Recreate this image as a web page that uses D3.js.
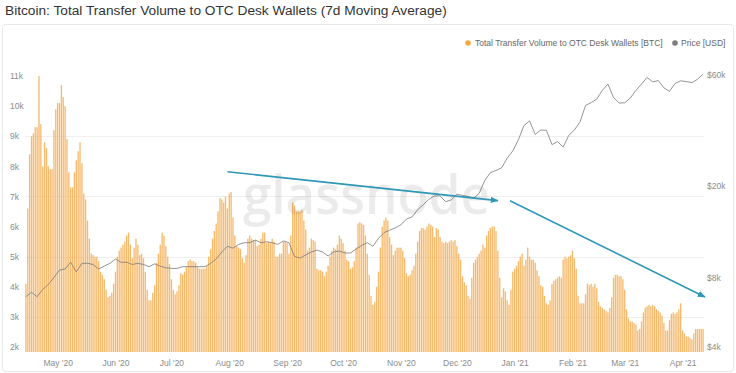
<!DOCTYPE html>
<html>
<head>
<meta charset="utf-8">
<script src="https://cdn.jsdelivr.net/npm/d3@7"></script>
<style>
body { margin: 0; background: #fff; }
svg { display: block; font-family: "Liberation Sans", Arial, sans-serif; }
.axis text { font-size: 8.5px; fill: #8c8c8c; }
.axis path { display: none; }
</style>
</head>
<body>
<svg id="chart" width="736" height="373"></svg>
<script>
// daily 7d MA transfer volume to OTC desks, thousands of BTC, from 14 Apr 2020
var volume = [
  4.1, 6.6, 8.4, 9.0, 9.1, 9.3, 9.3, 11.0, 9.4, 8.0,
  8.8, 8.6, 8.0, 7.9, 7.9, 9.2, 9.9, 10.1, 10.1, 10.7,
  10.3, 10.0, 8.9, 7.8, 7.3, 7.3, 7.8, 8.2, 8.5, 8.8,
  8.1, 7.1, 6.9, 6.2, 5.6, 5.1, 5.05, 5.0, 5.0, 4.85,
  4.5, 4.4, 4.25, 3.9, 3.65, 3.7, 3.8, 4.1, 4.5, 5.0,
  5.2, 5.3, 5.4, 5.5, 5.7, 5.8, 5.4, 4.95, 5.3, 5.6,
  5.4, 5.05, 5.1, 4.95, 4.5, 3.9, 3.55, 3.55, 3.8, 4.05,
  4.8, 5.1, 5.4, 5.8, 5.7, 5.35, 5.0, 4.75, 4.25, 3.9,
  3.75, 3.85, 4.05, 4.45, 4.4, 4.5, 4.65, 4.85, 4.9, 4.85,
  4.85, 4.8, 4.65, 4.6, 4.6, 4.6, 4.6, 4.7, 5.0, 5.25,
  5.6, 5.85, 6.1, 6.5, 6.95, 6.9, 6.8, 7.0, 6.6, 7.1,
  7.15, 6.3, 5.7, 5.35, 5.3, 5.25, 4.95, 4.8, 5.05, 5.6,
  5.7, 5.6, 5.55, 5.55, 5.35, 5.4, 5.6, 5.8, 5.8, 5.45,
  5.5, 5.45, 5.6, 5.5, 5.0, 5.0, 5.1, 5.1, 5.5, 5.5,
  5.45, 5.1, 5.7, 6.8, 6.7, 6.5, 6.5, 6.5, 6.55, 6.2,
  5.9, 5.2, 5.3, 5.6, 5.55, 5.5, 4.6, 4.55, 4.55, 4.5,
  4.35, 4.5, 4.7, 5.0, 5.2, 5.3, 5.25, 5.4, 5.7, 5.6,
  5.45, 5.2, 4.9, 4.85, 4.6, 4.65, 4.85, 5.3, 6.1, 6.15,
  6.1, 6.05, 5.7, 5.1, 4.4, 3.7, 3.4, 3.5, 4.0, 4.5,
  5.3, 6.0, 6.2, 6.3, 6.2, 5.65, 5.4, 5.05, 5.2, 5.3,
  5.3, 5.3, 5.2, 4.95, 4.45, 4.35, 4.4, 4.55, 4.7, 5.1,
  5.5, 5.85, 5.95, 5.95, 5.9, 6.0, 6.1, 6.05, 6.0, 5.65,
  5.95, 5.9, 5.65, 5.5, 5.45, 5.5, 5.45, 5.5, 5.55, 5.5,
  5.55, 5.35, 5.1, 4.9, 4.35, 4.15, 4.05, 3.7, 3.6, 4.3,
  4.8, 4.9, 5.0, 5.1, 5.2, 5.4, 5.3, 5.7, 5.85, 5.95,
  6.0, 6.0, 5.85, 5.2, 4.3, 3.65, 3.95, 3.85, 3.55, 3.4,
  3.9, 4.5, 4.6, 4.7, 4.85, 5.0, 5.1, 4.7, 4.9, 5.3,
  5.0, 4.9, 4.9, 4.8, 4.55, 4.35, 4.05, 4.0, 3.7, 3.45,
  3.4, 3.55, 4.1, 4.2, 4.25, 4.3, 4.35, 4.3, 4.9, 5.0,
  4.95, 5.0, 5.05, 5.2, 4.95, 4.6, 3.7, 3.45, 3.45, 3.45,
  3.75, 4.1, 4.05, 4.1, 4.0, 4.1, 3.95, 3.5, 3.35, 3.3,
  3.25, 3.2, 3.15, 3.3, 3.65, 4.3, 4.4, 4.4, 4.35, 4.35,
  4.25, 3.9, 3.25, 2.95, 2.85, 2.85, 2.8, 2.75, 2.55, 2.6,
  2.85, 3.15, 3.3, 3.35, 3.4, 3.35, 3.4, 3.35, 3.25, 3.2,
  3.15, 3.05, 2.8, 2.55, 2.55, 2.9, 3.1, 3.15, 3.1, 3.15,
  3.25, 3.45, 2.55, 2.45, 2.35, 2.35, 2.3, 2.25, 2.45, 2.6,
  2.6, 2.6, 2.6, 2.6
];

// BTC price in thousands USD, one reading every 3 days from the same start
var price = [
  6.6, 6.9, 6.6, 7.1, 7.45, 8.0, 8.6, 8.7, 9.3, 8.45,
  9.2, 9.2, 9.1, 8.7, 8.95, 9.2, 9.6, 9.3, 9.3, 9.1,
  9.2, 9.1, 8.9, 9.15, 8.95, 8.8, 8.75, 8.75, 8.9, 8.9,
  8.9, 8.9, 8.9, 9.2, 9.6, 10.3, 10.9, 10.7, 11.1, 11.3,
  11.3, 11.6, 11.3, 11.4, 11.3, 11.1, 11.5, 11.3, 9.85, 9.7,
  10.0, 10.3, 10.5, 10.3, 9.9, 10.3, 10.4, 10.2, 10.2, 10.6,
  11.0, 11.3, 10.9, 11.8, 12.5, 12.8, 13.1, 13.5, 14.3, 14.6,
  15.7, 16.5, 17.4, 18.0, 18.0, 17.0, 17.3, 18.3, 18.1, 17.9,
  17.6, 18.5, 21.0, 22.7, 23.2, 23.8, 26.2, 28.2, 31.5, 36.3,
  38.0, 33.2, 34.7, 34.6, 30.0, 30.9, 29.3, 32.9, 34.7, 37.5,
  44.3, 45.6, 47.2, 51.5, 54.8, 48.0, 45.4, 45.5, 47.7, 51.5,
  54.8, 58.6, 56.0, 56.8, 52.8, 51.0, 55.2, 56.6, 56.2, 55.6,
  57.5, 60.5
];
var priceStep = 3;

var volumeTicks = [2, 3, 4, 5, 6, 7, 8, 9, 10, 11];
var priceTicks = [4, 8, 20, 60];
var gridTicks = [3, 5, 7, 9];

// hand-drawn trend arrows: [day offset, volume in k]
var arrowA = [[108, 7.82], [253, 6.86]];
var arrowB = [[259.5, 6.86], [364, 3.66]];

var title = "Bitcoin: Total Transfer Volume to OTC Desk Wallets (7d Moving Average)";
var legendNames = ["Total Transfer Volume to OTC Desk Wallets [BTC]", "Price [USD]"];

var barColor = "#f5a744";
var lineColor = "#7a7a7a";
var arrowColor = "#2f98b6";

var start = new Date(2020, 3, 14);
var dayMs = 864e5;
function dayDate(d) { return new Date(start.getTime() + d * dayMs); }

var svg = d3.select("#chart");

var x = d3.scaleTime()
    .domain([dayDate(-0.5), dayDate(volume.length - 0.5)])
    .range([25, 704]);

var y = d3.scaleLinear()
    .domain([2, 11])
    .range([347, 76]);

var yPrice = d3.scaleLog()
    .domain([4, 60])
    .range([347, 75]);

var bottom = 352;
var step = x(dayDate(1)) - x(dayDate(0));
var barW = step * 0.72;

// panel frame
svg.append("rect")
    .attr("x", 2.5).attr("y", 24.5)
    .attr("width", 731).attr("height", 347)
    .attr("rx", 3)
    .attr("fill", "none")
    .attr("stroke", "#e8e8e8");

svg.append("text")
    .attr("x", 5).attr("y", 15)
    .attr("font-size", 13.7)
    .attr("fill", "#333")
    .text(title);

// grid
svg.append("g").selectAll("line")
    .data(gridTicks)
  .enter().append("line")
    .attr("x1", 25).attr("x2", 704)
    .attr("y1", function(d) { return Math.round(y(d)) + 0.5; })
    .attr("y2", function(d) { return Math.round(y(d)) + 0.5; })
    .attr("stroke", "#efefef");

// bars
svg.append("g").selectAll("rect")
    .data(volume)
  .enter().append("rect")
    .attr("x", function(d, i) { return x(dayDate(i)) - barW / 2; })
    .attr("y", function(d) { return y(d); })
    .attr("width", barW)
    .attr("height", function(d) { return bottom - y(d); })
    .attr("fill", barColor)
    .attr("fill-opacity", 0.78);

// price line
var line = d3.line()
    .x(function(d, i) { return x(dayDate(i * priceStep)); })
    .y(function(d) { return yPrice(d); });

svg.append("path")
    .datum(price)
    .attr("d", line)
    .attr("fill", "none")
    .attr("stroke", lineColor)
    .attr("stroke-width", 0.8);

// watermark
svg.append("text")
    .attr("x", 243).attr("y", 214)
    .attr("font-size", 54)
    .attr("font-weight", 600)
    .attr("font-family", "'Open Sans', sans-serif")
    .attr("textLength", 247)
    .attr("lengthAdjust", "spacingAndGlyphs")
    .attr("fill", "#000")
    .attr("fill-opacity", 0.08)
    .text("glassnode");

// arrows
var defs = svg.append("defs");
defs.append("marker")
    .attr("id", "head")
    .attr("viewBox", "0 0 10 10")
    .attr("refX", 9).attr("refY", 5)
    .attr("markerWidth", 5).attr("markerHeight", 5)
    .attr("orient", "auto")
  .append("path")
    .attr("d", "M0,1L10,5L0,9Z")
    .attr("fill", arrowColor);

[arrowA, arrowB].forEach(function(a) {
    svg.append("line")
        .attr("x1", x(dayDate(a[0][0]))).attr("y1", y(a[0][1]))
        .attr("x2", x(dayDate(a[1][0]))).attr("y2", y(a[1][1]))
        .attr("stroke", arrowColor)
        .attr("stroke-width", 1.6)
        .attr("marker-end", "url(#head)");
});

// axes
svg.append("g")
    .attr("class", "axis")
    .attr("transform", "translate(0," + bottom + ")")
    .call(d3.axisBottom(x)
        .ticks(d3.timeMonth.every(1))
        .tickFormat(d3.timeFormat("%b '%y"))
        .tickSize(0).tickPadding(8))
    .selectAll("text").attr("fill", "#777");

svg.append("g")
    .attr("class", "axis")
    .attr("transform", "translate(10,0)")
    .call(d3.axisRight(y)
        .tickValues(volumeTicks)
        .tickFormat(function(d) { return d + "k"; })
        .tickSize(0).tickPadding(0))
    .selectAll("text").attr("fill", "#a89682");

svg.append("g")
    .attr("class", "axis")
    .attr("transform", "translate(707,0)")
    .call(d3.axisRight(yPrice)
        .tickValues(priceTicks)
        .tickFormat(function(d) { return "$" + d + "k"; })
        .tickSize(0).tickPadding(0))
    .selectAll("text").attr("fill", "#777");

// legend
var legend = svg.append("g").attr("font-size", 8.5).attr("fill", "#666");
legend.append("circle").attr("cx", 468).attr("cy", 43).attr("r", 2.8).attr("fill", "#f4a93f");
legend.append("text").attr("x", 475).attr("y", 46).text(legendNames[0]);
legend.append("circle").attr("cx", 675).attr("cy", 43).attr("r", 2.8).attr("fill", "#7d7d7d");
legend.append("text").attr("x", 681).attr("y", 46).text(legendNames[1]);
</script>
</body>
</html>
